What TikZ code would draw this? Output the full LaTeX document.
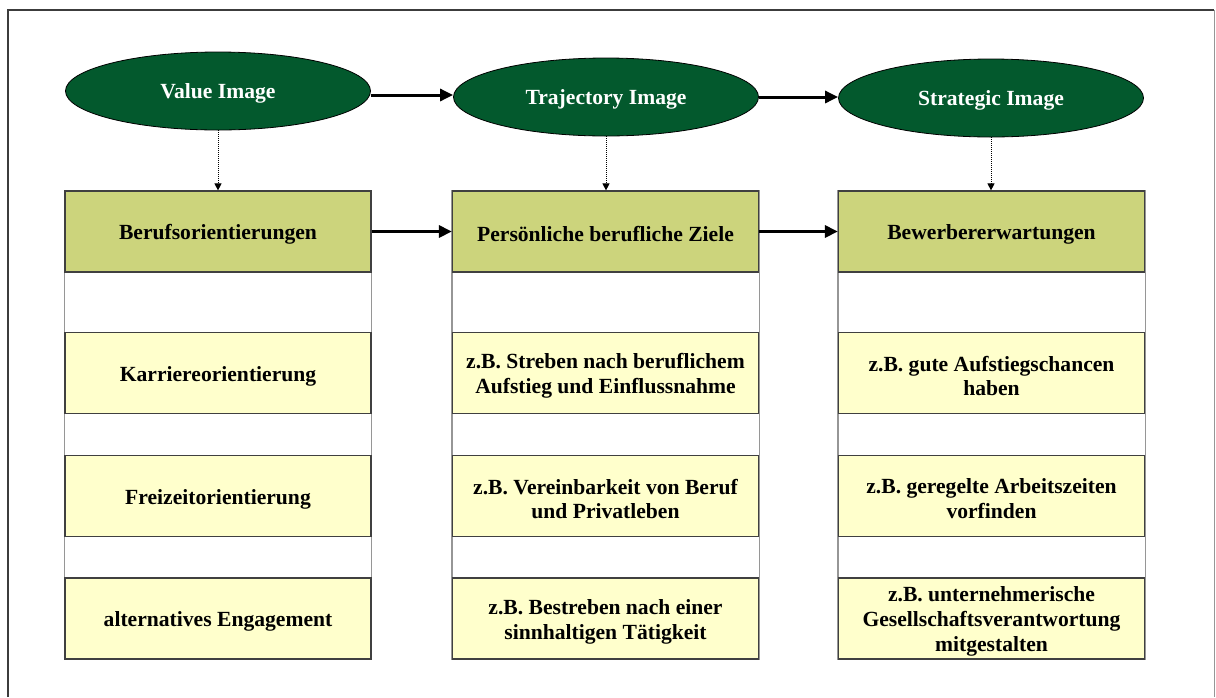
\documentclass[tikz,border=0pt]{standalone}
\usepackage{fontspec}
\setmainfont{Liberation Serif}
\usetikzlibrary{arrows.meta,shapes.geometric,backgrounds}
\definecolor{imggreen}{RGB}{3,89,45}
\definecolor{headfill}{RGB}{204,212,124}
\definecolor{itemfill}{RGB}{255,255,204}
\definecolor{boxline}{RGB}{64,64,64}
\definecolor{gapline}{RGB}{150,150,150}
\definecolor{frameline}{RGB}{60,60,60}

\begin{document}
\begin{tikzpicture}[x=0.5pt,y=-0.5pt,
  txt/.style={font=\fontsize{10.8}{12.4}\selectfont\bfseries, inner sep=0pt, align=center},
  boxtext/.style={txt, yshift=-1.5pt},
  imgtext/.style={txt, text=white, yshift=-1pt},
  imagenode/.style={ellipse, fill=imggreen, draw=black, line width=0.4pt,
    minimum width=152.5pt, minimum height=39pt, inner sep=0pt,
    label={[imgtext]center:#1}},
  box/.style={rectangle, draw=boxline, line width=0.6pt, minimum width=153pt,
    minimum height=40.5pt, inner sep=0pt, label={[boxtext]center:#1}},
  headbox/.style={box={#1}, fill=headfill},
  itembox/.style={box={#1}, fill=itemfill},
  flow/.style={line width=1.5pt, -{Triangle[length=6.5pt,width=6pt]}},
  link/.style={line width=0.5pt, dash pattern=on 0.5pt off 0.5pt,
    -{Triangle[length=3.5pt,width=3.5pt]}},
]
\useasboundingbox (0,0) rectangle (1216,697);

% outer frame
\draw[frameline, line width=1pt] (8,697) -- (8,10) -- (1214,10);
\draw[gapline, line width=0.5pt] (1214,10) -- (1214,697);

% image ellipses
\node[imagenode={Value Image}] (v) at (218,91) {};
\node[imagenode={Trajectory Image}] (t) at (606,97) {};
\node[imagenode={Strategic Image}] (s) at (991,98) {};

% column 1
\node[headbox={Berufsorientierungen}] (h1) at (218,231.5) {};
\node[itembox={Karriereorientierung}] (a1) at (218,373) {};
\node[itembox={Freizeitorientierung}] (b1) at (218,496) {};
\node[itembox={alternatives Engagement}] (c1) at (218,618.5) {};

% column 2
\node[headbox={Persönliche berufliche Ziele}] (h2) at (605.5,231.5) {};
\node[itembox={z.B. Streben nach beruflichem\\Aufstieg und Einflussnahme}] (a2) at (605.5,373) {};
\node[itembox={z.B. Vereinbarkeit von Beruf\\und Privatleben}] (b2) at (605.5,496) {};
\node[itembox={z.B. Bestreben nach einer\\sinnhaltigen Tätigkeit}] (c2) at (605.5,618.5) {};

% column 3
\node[headbox={Bewerbererwartungen}] (h3) at (991.5,231.5) {};
\node[itembox={z.B. gute Aufstiegschancen\\haben}] (a3) at (991.5,373) {};
\node[itembox={z.B. geregelte Arbeitszeiten\\vorfinden}] (b3) at (991.5,496) {};
\node[itembox={z.B. unternehmerische\\Gesellschaftsverantwortung\\mitgestalten}] (c3) at (991.5,618.5) {};

% white column strips behind the boxes
\begin{scope}[on background layer]
  \foreach \c in {1,2,3}
    \draw[gapline, fill=white, line width=0.6pt] (h\c.north west) rectangle (c\c.south east);
\end{scope}

% connectors
\draw[flow] ([yshift=-2pt]v.east) -- ([yshift=-2pt]v.east -| t.west);
\draw[flow] (t.east) -- (t.east -| s.west);
\draw[flow] (h1.east) -- (h2.west);
\draw[flow] (h2.east) -- (h3.west);
\draw[link] (v.south) -- (h1.north);
\draw[link] (t.south) -- (t.south |- h2.north);
\draw[link] (s.south) -- (s.south |- h3.north);
\end{tikzpicture}
\end{document}
